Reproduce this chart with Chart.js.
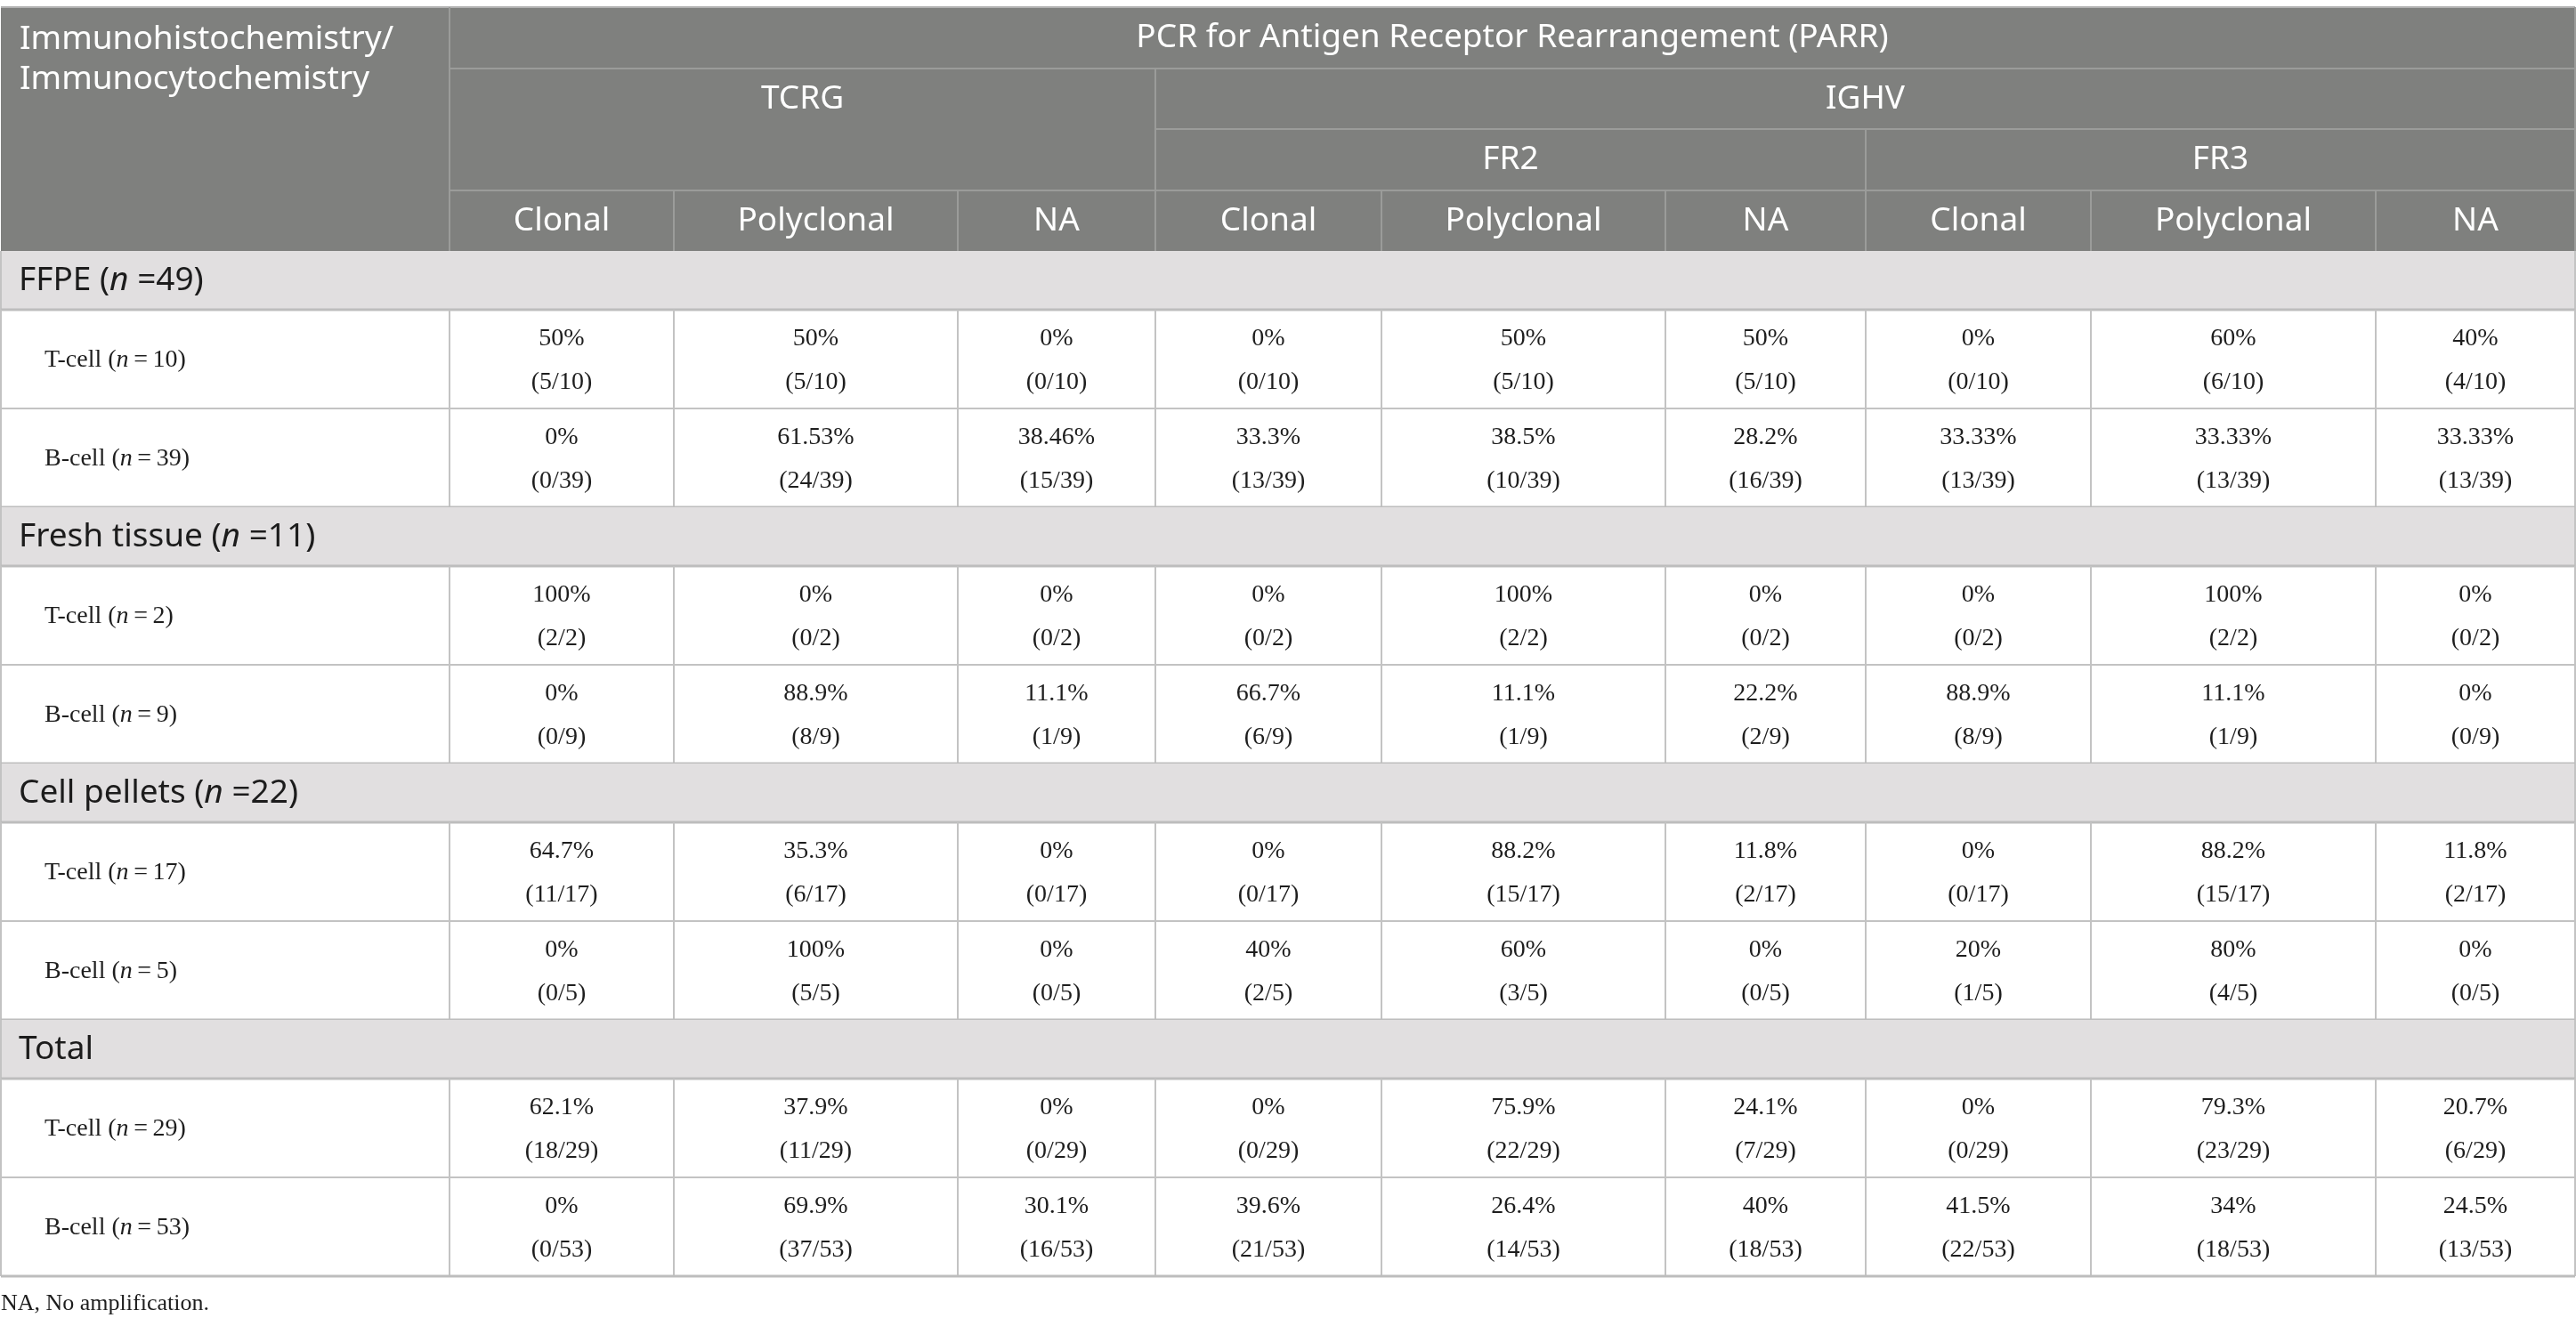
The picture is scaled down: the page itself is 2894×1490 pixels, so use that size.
<!DOCTYPE html>
<html lang="en">
<head>
<meta charset="UTF-8" />
<title>PARR vs Immunohistochemistry/Immunocytochemistry</title>
<style>
  html, body { margin: 0; padding: 0; background: #fff; }
  #wrap { width: 2894px; height: 1490px; }
</style>
<script src="https://cdn.jsdelivr.net/npm/chart.js"></script>
</head>
<body>
<div id="wrap"><canvas id="parrTable" width="2894" height="1490"></canvas></div>
<script>
  // ---- table text ----
  const topHeader = 'PCR for Antigen Receptor Rearrangement (PARR)';
  const firstColHeader = ['Immunohistochemistry/', 'Immunocytochemistry'];
  const markers = ['TCRG', 'IGHV'];
  const regions = ['FR2', 'FR3'];
  const outcomes = ['Clonal', 'Polyclonal', 'NA'];
  const footnote = 'NA, No amplification.';

  // ---- row groups ----
  const groups = ['FFPE', 'Fresh tissue', 'Cell pellets', 'Total'];
  const groupN = [49, 11, 22, null];
  const cellTypes = ['T-cell', 'B-cell'];
  const cellN = [[10, 39], [2, 9], [17, 5], [29, 53]];

  // columns: TCRG (Clonal, Polyclonal, NA), FR2 (...), FR3 (...)
  const pctFFPE   = [[50, 50, 0, 0, 50, 50, 0, 60, 40],
                     [0, 61.53, 38.46, 33.3, 38.5, 28.2, 33.33, 33.33, 33.33]];
  const cntFFPE   = [[5, 5, 0, 0, 5, 5, 0, 6, 4],
                     [0, 24, 15, 13, 10, 16, 13, 13, 13]];
  const pctFresh  = [[100, 0, 0, 0, 100, 0, 0, 100, 0],
                     [0, 88.9, 11.1, 66.7, 11.1, 22.2, 88.9, 11.1, 0]];
  const cntFresh  = [[2, 0, 0, 0, 2, 0, 0, 2, 0],
                     [0, 8, 1, 6, 1, 2, 8, 1, 0]];
  const pctPellet = [[64.7, 35.3, 0, 0, 88.2, 11.8, 0, 88.2, 11.8],
                     [0, 100, 0, 40, 60, 0, 20, 80, 0]];
  const cntPellet = [[11, 6, 0, 0, 15, 2, 0, 15, 2],
                     [0, 5, 0, 2, 3, 0, 1, 4, 0]];
  const pctTotal  = [[62.1, 37.9, 0, 0, 75.9, 24.1, 0, 79.3, 20.7],
                     [0, 69.9, 30.1, 39.6, 26.4, 40, 41.5, 34, 24.5]];
  const cntTotal  = [[18, 11, 0, 0, 22, 7, 0, 23, 6],
                     [0, 37, 16, 21, 14, 18, 22, 18, 13]];

  const pctByGroup = [pctFFPE, pctFresh, pctPellet, pctTotal];
  const cntByGroup = [cntFFPE, cntFresh, cntPellet, cntTotal];

  // ---- layout (table units, mapped through the chart scales) ----
  const TABLE_W = 2894, TABLE_H = 1490;
  const colEdges = [1, 505, 757, 1076, 1298, 1552, 1871, 2096, 2349, 2669, 2893];
  const headEdges = [8, 77, 145, 214, 282];
  const SECTION_H = 66, DATA_H = 111;

  const SANS = '"Noto Sans", "Open Sans", sans-serif';
  const SERIF = '"Liberation Serif", "DejaVu Serif", serif';
  const HEAD_BG = '#7f807e', HEAD_LINE = '#9b9c9a';
  const SECT_BG = '#e1dfe0', BODY_LINE = '#c3c3c3';

  function richText(ctx, parts, x, y, align, size, family, color) {
    ctx.fillStyle = color;
    ctx.textBaseline = 'middle';
    ctx.textAlign = 'left';
    let w = 0;
    parts.forEach(p => {
      ctx.font = (p.it ? 'italic ' : '') + size + 'px ' + family;
      w += ctx.measureText(p.t).width;
    });
    let cx = align === 'center' ? x - w / 2 : x;
    parts.forEach(p => {
      ctx.font = (p.it ? 'italic ' : '') + size + 'px ' + family;
      ctx.fillText(p.t, cx, y);
      cx += ctx.measureText(p.t).width;
    });
  }

  const tablePlugin = {
    id: 'parrTable',
    afterDraw(chart) {
      const ctx = chart.ctx;
      const sx = chart.scales.x, sy = chart.scales.y;
      const X = v => sx.getPixelForValue(v);
      const Y = v => sy.getPixelForValue(v);
      const left = colEdges[0], right = colEdges[colEdges.length - 1];

      function line(x1, y1, x2, y2, color, w) {
        ctx.strokeStyle = color;
        ctx.lineWidth = w;
        ctx.beginPath();
        ctx.moveTo(X(x1), Y(y1));
        ctx.lineTo(X(x2), Y(y2));
        ctx.stroke();
      }
      function rect(x1, y1, x2, y2, color) {
        ctx.fillStyle = color;
        ctx.fillRect(X(x1), Y(y1), X(x2) - X(x1), Y(y2) - Y(y1));
      }

      ctx.save();
      // ---- header block ----
      const h = headEdges;
      rect(left, h[0], right, h[4], HEAD_BG);
      line(left, h[0], right, h[0], '#b3b3b3', 2);
      line(colEdges[1], h[0], colEdges[1], h[4], HEAD_LINE, 2);
      line(colEdges[1], h[1], right, h[1], HEAD_LINE, 2);
      line(colEdges[4], h[1], colEdges[4], h[4], HEAD_LINE, 2);
      line(colEdges[4], h[2], right, h[2], HEAD_LINE, 2);
      line(colEdges[7], h[2], colEdges[7], h[4], HEAD_LINE, 2);
      line(colEdges[1], h[3], right, h[3], HEAD_LINE, 2);
      for (let c = 2; c < colEdges.length - 1; c++) {
        line(colEdges[c], h[3], colEdges[c], h[4], HEAD_LINE, 2);
      }
      line(right, h[0], right, h[4], HEAD_LINE, 2);

      const HS = 37, white = '#ffffff';
      const midX = (a, b) => X((colEdges[a] + colEdges[b]) / 2);
      const midY = (a, b) => Y((a + b) / 2);
      richText(ctx, [{ t: firstColHeader[0] }], X(22), Y(44), 'left', HS, SANS, white);
      richText(ctx, [{ t: firstColHeader[1] }], X(22), Y(89), 'left', HS, SANS, white);
      richText(ctx, [{ t: topHeader }], midX(1, 10), midY(h[0], h[1]), 'center', HS, SANS, white);
      richText(ctx, [{ t: markers[0] }], midX(1, 4), midY(h[1], h[2]), 'center', HS, SANS, white);
      richText(ctx, [{ t: markers[1] }], midX(4, 10), midY(h[1], h[2]), 'center', HS, SANS, white);
      richText(ctx, [{ t: regions[0] }], midX(4, 7), midY(h[2], h[3]), 'center', HS, SANS, white);
      richText(ctx, [{ t: regions[1] }], midX(7, 10), midY(h[2], h[3]), 'center', HS, SANS, white);
      for (let c = 0; c < 9; c++) {
        richText(ctx, [{ t: outcomes[c % 3] }], midX(c + 1, c + 2), midY(h[3], h[4]), 'center', HS, SANS, white);
      }

      // ---- body ----
      let top = h[4];
      groups.forEach((g, gi) => {
        const bot = top + SECTION_H;
        rect(left, top, right, bot, SECT_BG);
        line(left, top, left, bot, BODY_LINE, 2);
        line(right, top, right, bot, BODY_LINE, 2);
        line(left, bot, right, bot, '#bdbdbd', 3);
        const label = groupN[gi] === null ? [{ t: g }]
          : [{ t: g + ' (' }, { t: 'n', it: true }, { t: ' =' + groupN[gi] + ')' }];
        richText(ctx, label, X(21), midY(top, bot), 'left', HS, SANS, '#1c1c1c');
        top = bot;

        cellTypes.forEach((ct, ri) => {
          const rb = top + DATA_H;
          colEdges.forEach(cx => line(cx, top, cx, rb, BODY_LINE, 2));
          line(left, rb, right, rb, ri === 1 ? '#bdbdbd' : BODY_LINE, ri === 1 ? 3 : 2);
          const n = cellN[gi][ri];
          richText(ctx, [{ t: ct + ' (' }, { t: 'n', it: true }, { t: '\u2009=\u2009' + n + ')' }],
            X(50), Y(top + DATA_H / 2 + 1), 'left', 28, SERIF, '#1e1e1e');
          const pcts = pctByGroup[gi][ri], cnts = cntByGroup[gi][ri];
          for (let c = 0; c < 9; c++) {
            richText(ctx, [{ t: pcts[c] + '%' }], midX(c + 1, c + 2), Y(top + 33), 'center', 28, SERIF, '#1e1e1e');
            richText(ctx, [{ t: '(' + cnts[c] + '/' + n + ')' }], midX(c + 1, c + 2), Y(top + 82), 'center', 28, SERIF, '#1e1e1e');
          }
          top = rb;
        });
      });

      richText(ctx, [{ t: footnote }], X(1), Y(1465), 'left', 26, SERIF, '#1e1e1e');
      ctx.restore();
    }
  };

  const ctx = document.getElementById('parrTable').getContext('2d');
  const parrChart = new Chart(ctx, {
    type: 'scatter',
    data: { datasets: [{ data: [] }] },
    options: {
      responsive: false,
      animation: false,
      devicePixelRatio: 1,
      layout: { padding: 0 },
      plugins: { legend: { display: false }, tooltip: { enabled: false } },
      scales: {
        x: { type: 'linear', display: false, min: 0, max: TABLE_W },
        y: { type: 'linear', display: false, min: 0, max: TABLE_H, reverse: true }
      }
    },
    plugins: [tablePlugin]
  });
</script>
</body>
</html>
